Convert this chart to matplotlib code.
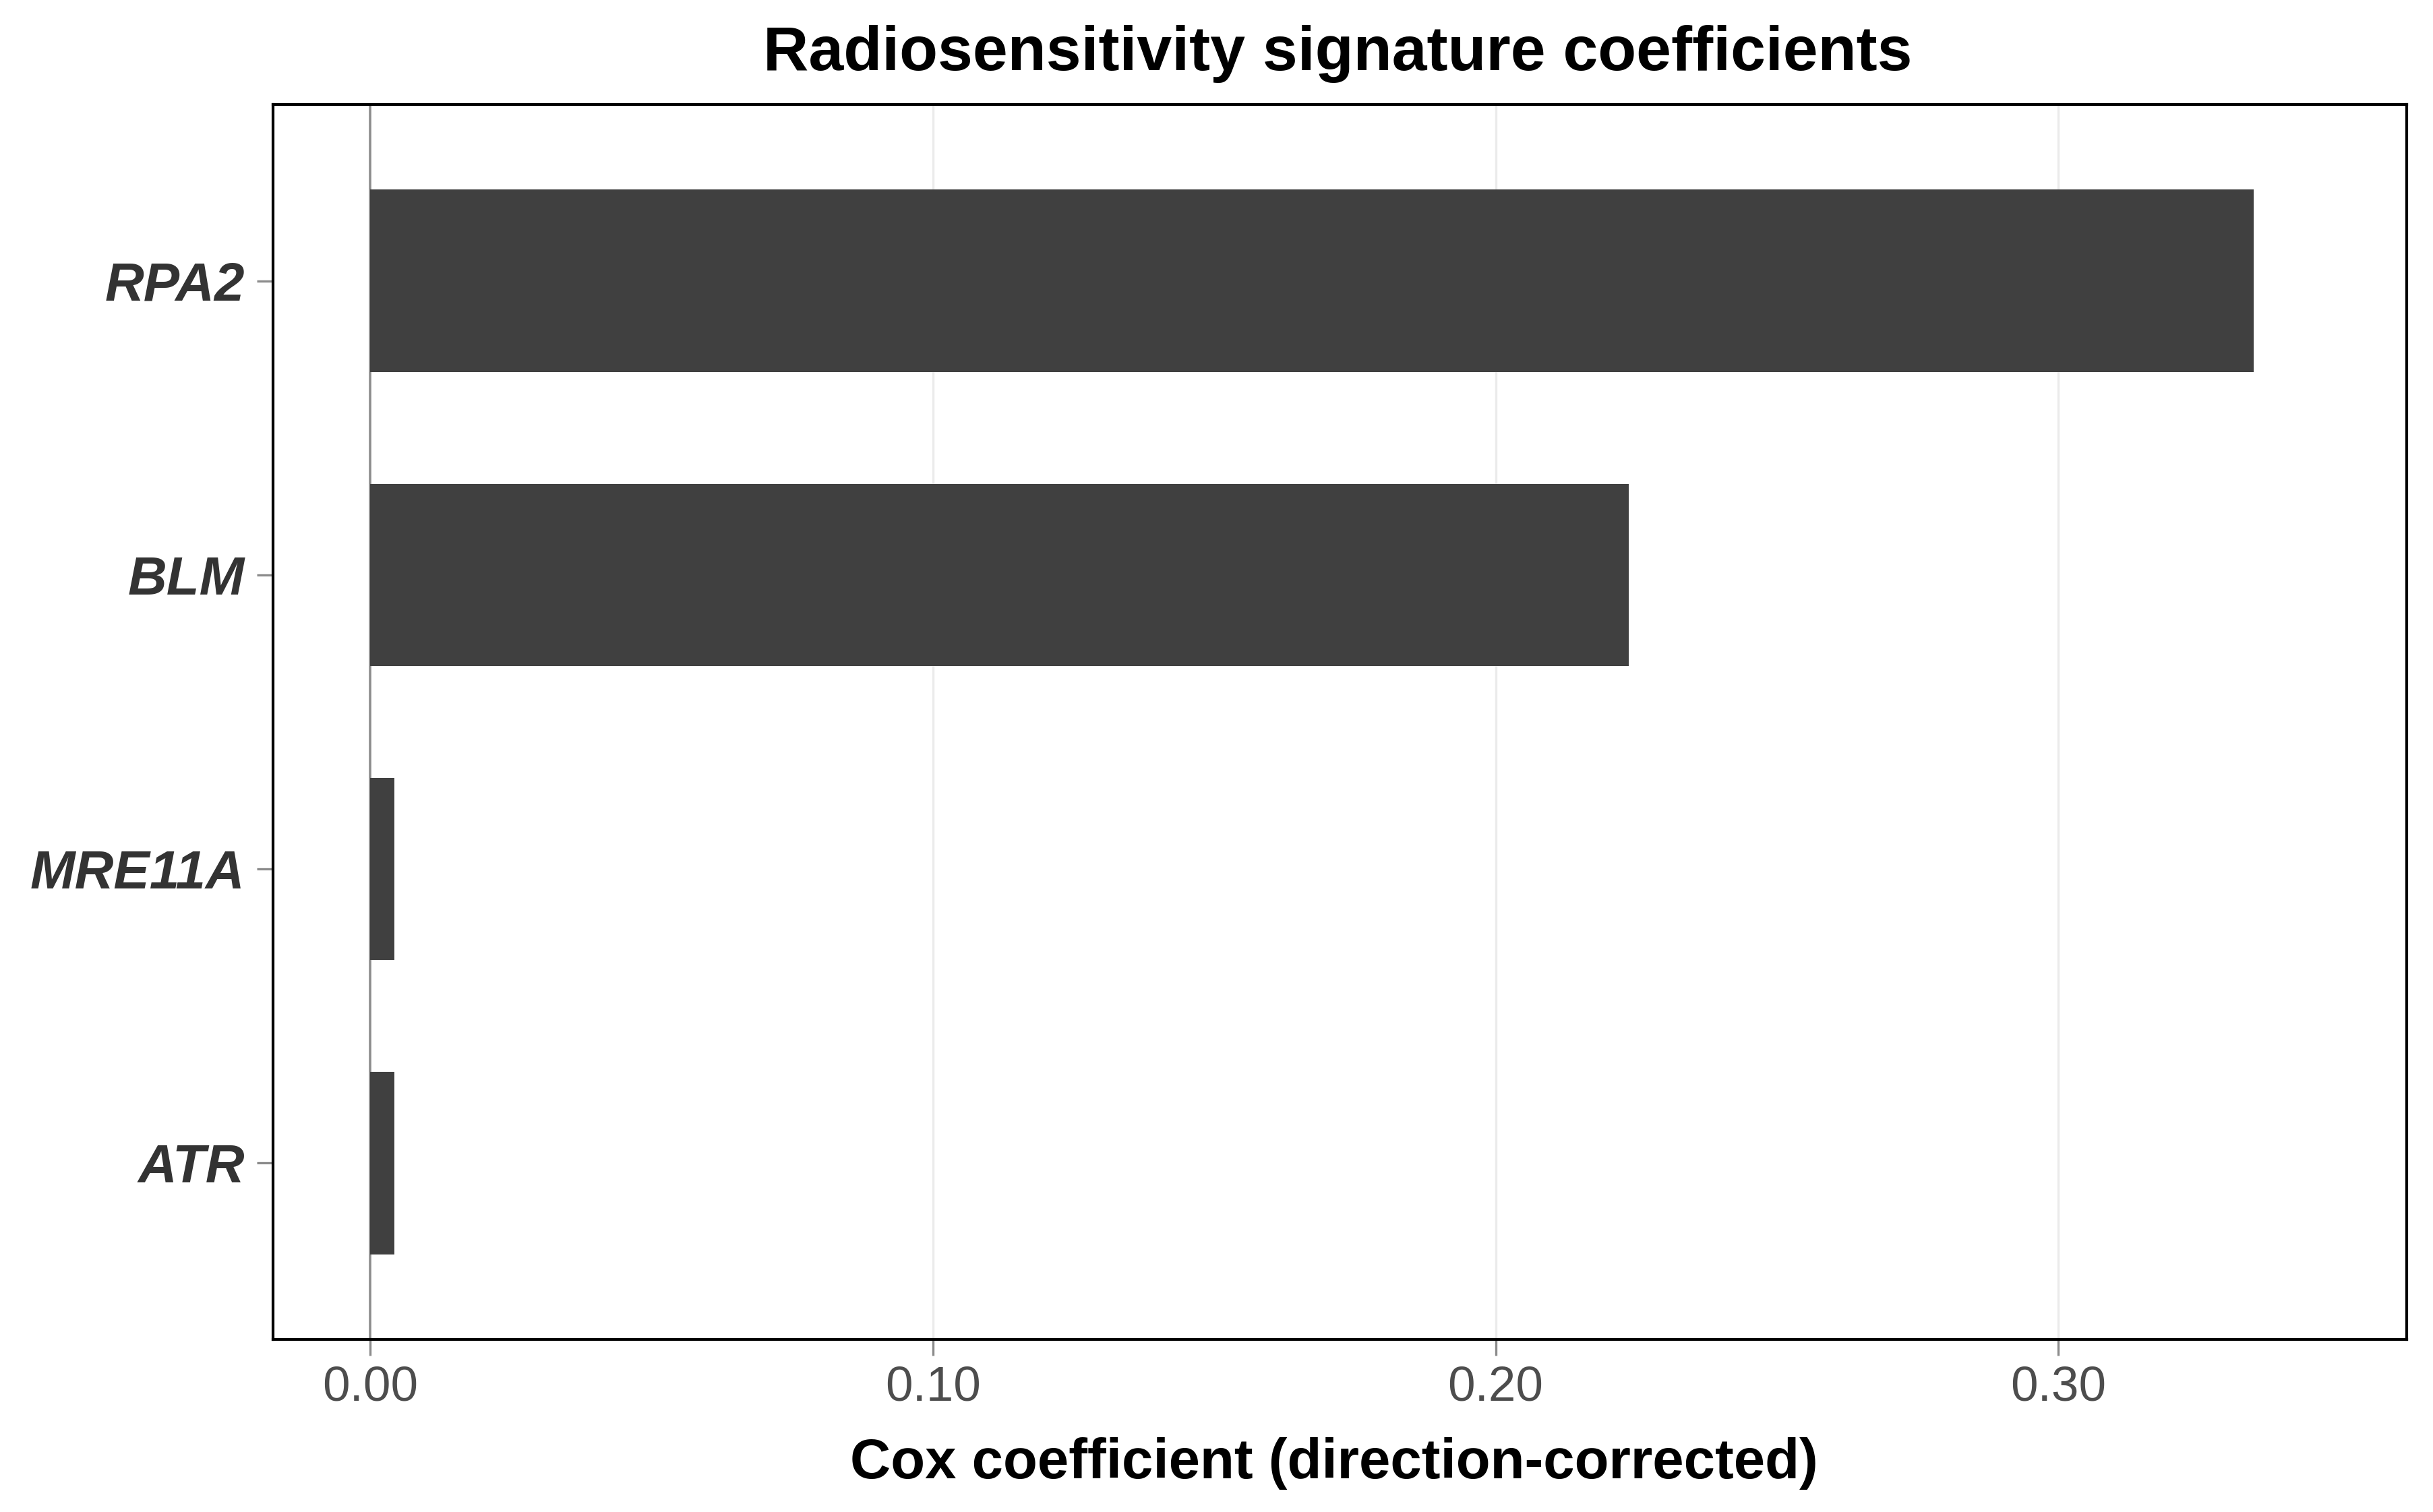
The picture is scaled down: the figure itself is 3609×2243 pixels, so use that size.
import matplotlib
matplotlib.use('Agg')
import matplotlib.pyplot as plt

plt.rcParams['font.family'] = ['Liberation Sans', 'DejaVu Sans']

# Data (bottom to top, as drawn)
genes = ['ATR', 'MRE11A', 'BLM', 'RPA2']
coefs = [0.0043, 0.0043, 0.2237, 0.3347]
xticks = [0.00, 0.10, 0.20, 0.30]
xtick_labels = ['0.00', '0.10', '0.20', '0.30']

fig = plt.figure(figsize=(3609 / 300, 2243 / 300), dpi=300)
ax = fig.add_axes([0.1122, 0.1141, 0.9892 - 0.1122, 0.9309 - 0.1141])

ypos = list(range(1, len(genes) + 1))

# grid + zero line
for xt in xticks[1:]:
    ax.axvline(xt, color='#ebebeb', lw=0.8, zorder=0)
ax.axvline(0, color='#8c8c8c', lw=0.85, zorder=1)

ax.barh(ypos, coefs, height=0.62, color='#404040', zorder=2)

ax.set_xlim(-0.01725, 0.3619)
ax.set_ylim(0.4, 4.6)

ax.set_xticks(xticks)
ax.set_xticklabels(xtick_labels, fontsize=17.5, color='#4d4d4d')
ax.set_yticks(ypos)
ax.set_yticklabels(genes, fontsize=19.2, fontweight='bold', fontstyle='italic', color='#333333')
ax.tick_params(axis='x', length=5.8, width=0.8, color='#8c8c8c', pad=3.4)
ax.tick_params(axis='y', length=5.8, width=0.8, color='#8c8c8c', pad=4.3)

for sp in ax.spines.values():
    sp.set_color('black')
    sp.set_linewidth(1.0)

fig.text(0.5497, 1 - 104 / 2243, 'Radiosensitivity signature coefficients',
         ha='center', va='baseline', fontsize=22.4, fontweight='bold')
fig.text(0.5484, 1 - 2193 / 2243, 'Cox coefficient (direction-corrected)',
         ha='center', va='baseline', fontsize=20, fontweight='bold')

plt.savefig('out.png', dpi=300)
